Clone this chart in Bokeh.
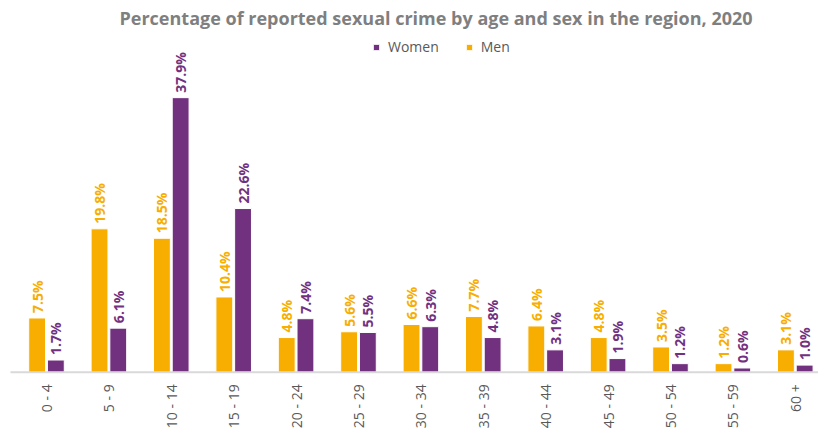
import math
from bokeh.plotting import figure
from bokeh.models import ColumnDataSource, Range1d, Legend, LegendItem
from bokeh.core.properties import value
from bokeh.embed import file_html
from bokeh.resources import INLINE

age_groups = ["0 - 4", "5 - 9", "10 - 14", "15 - 19", "20 - 24", "25 - 29", "30 - 34",
              "35 - 39", "40 - 44", "45 - 49", "50 - 54", "55 - 59", "60 +"]
men = [7.5, 19.8, 18.5, 10.4, 4.8, 5.6, 6.6, 7.7, 6.4, 4.8, 3.5, 1.2, 3.1]
women = [1.7, 6.1, 37.9, 22.6, 7.4, 5.5, 6.3, 4.8, 3.1, 1.9, 1.2, 0.6, 1.0]

MEN_C = "#F7AE00"
WOMEN_C = "#72317F"
FONT = "Open Sans"

idx = list(range(len(age_groups)))
men_src = ColumnDataSource(dict(x=[i - 0.15 for i in idx], top=men,
                                lab=[f"{v:.1f}%" for v in men]))
women_src = ColumnDataSource(dict(x=[i + 0.15 for i in idx], top=women,
                                  lab=[f"{v:.1f}%" for v in women]))
cat_src = ColumnDataSource(dict(x=idx, y=[0] * len(idx), lab=age_groups))

p = figure(width=818, height=437, output_backend="svg", toolbar_location=None,
           x_range=Range1d(-0.689, 12.372), y_range=Range1d(-8.99, 46.75),
           min_border_left=3, min_border_right=0, min_border_top=0, min_border_bottom=0)

p.title.text = "Percentage of reported sexual crime by age and sex in the region, 2020"
p.title.align = "left"
p.title.offset = 116
p.title.standoff = 7
p.title.text_font = FONT
p.title.text_font_size = "18px"
p.title.text_font_style = "bold"
p.title.text_color = "#7F7F7F"

rm = p.vbar(x="x", top="top", width=0.27, source=men_src, fill_color=MEN_C,
            line_color="white", line_width=1)
rw = p.vbar(x="x", top="top", width=0.27, source=women_src, fill_color=WOMEN_C,
            line_color="white", line_width=1)

# category axis: baseline and rotated labels
p.segment(x0=[-0.577], y0=[0], x1=[12.37], y1=[0], line_color="#D9D9D9", line_width=2)
p.text(x="x", y="y", text="lab", source=cat_src, angle=math.pi / 2,
       text_align="right", text_baseline="middle", y_offset=12,
       text_font=value(FONT), text_font_size="14px", text_color="#595959")

p.text(x="x", y="top", text="lab", source=men_src, angle=math.pi / 2,
       text_align="left", text_baseline="middle", y_offset=-5,
       text_font=value(FONT), text_font_style="bold", text_font_size="14px",
       text_color=MEN_C)
p.text(x="x", y="top", text="lab", source=women_src, angle=math.pi / 2,
       text_align="left", text_baseline="middle", y_offset=-5,
       text_font=value(FONT), text_font_style="bold", text_font_size="14px",
       text_color=WOMEN_C)

legend = Legend(items=[LegendItem(label="Women", renderers=[rw]),
                       LegendItem(label="Men", renderers=[rm])],
                orientation="horizontal", location=(369, 381),
                label_text_font=FONT, label_text_font_size="14px",
                label_text_color="#595959", glyph_width=8, glyph_height=8,
                padding=0, margin=0, spacing=26, label_standoff=8,
                border_line_color=None, background_fill_alpha=0)
p.add_layout(legend, "center")

p.xaxis.visible = False
p.yaxis.visible = False
p.xgrid.grid_line_color = None
p.ygrid.grid_line_color = None
p.outline_line_color = None

open("out.html", "w").write(file_html(p, INLINE))
